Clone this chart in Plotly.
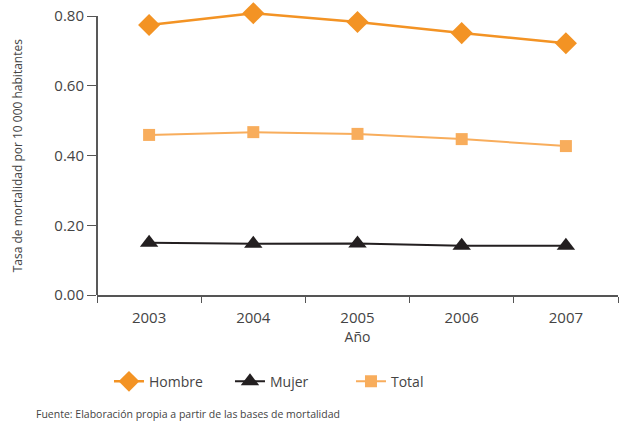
import plotly.graph_objects as go

years = ["2003", "2004", "2005", "2006", "2007"]
hombre = [0.774, 0.808, 0.783, 0.751, 0.722]
mujer = [0.150, 0.147, 0.148, 0.141, 0.141]
total = [0.459, 0.467, 0.462, 0.447, 0.427]
y_ticks = [0.0, 0.2, 0.4, 0.6, 0.8]
y_tick_labels = ["0.00", "0.20", "0.40", "0.60", "0.80"]

FONT = "Open Sans"
fig = go.Figure()
fig.add_trace(go.Scatter(x=years, y=hombre, name="Hombre", mode="lines+markers",
                         cliponaxis=False,
                         line=dict(color="#F39324", width=2.5),
                         marker=dict(symbol="diamond", size=17, color="#F39324")))
fig.add_trace(go.Scatter(x=years, y=mujer, name="Mujer", mode="lines+markers",
                         cliponaxis=False,
                         line=dict(color="#231F20", width=2),
                         marker=dict(symbol="triangle-up", size=16, color="#231F20")))
fig.add_trace(go.Scatter(x=years, y=total, name="Total", mode="lines+markers",
                         cliponaxis=False,
                         line=dict(color="#F8AD5C", width=2),
                         marker=dict(symbol="square", size=12, color="#F8AD5C")))

fig.update_layout(
    width=621, height=423,
    margin=dict(l=97, r=3, t=12, b=128, autoexpand=False),
    paper_bgcolor="white", plot_bgcolor="white",
    font=dict(family=FONT, size=14, color="#444"),
    showlegend=True,
    hovermode=False,
    legend=dict(orientation="h", x=0.023, y=-0.25, xanchor="left", yanchor="top",
                font=dict(size=14, color="#444"), entrywidth=76, entrywidthmode="pixels"),
    xaxis=dict(type="category", range=[-0.5, 4.5], showline=True, linecolor="#555",
               linewidth=1.5, ticks="outside", tickson="boundaries", ticklen=6,
               tickcolor="#555", showgrid=False, zeroline=False, automargin=False,
               tickfont=dict(size=15), ticklabelstandoff=8,
               title=dict(text="Año", standoff=4, font=dict(size=14))),
    yaxis=dict(range=[0, 0.8 * 283 / 279], tickvals=y_ticks, ticktext=y_tick_labels,
               showline=False, ticks="outside",
               ticklen=9, tickcolor="#555", showgrid=False, zeroline=False,
               tickfont=dict(size=15), automargin=False),
)

# y axis line from 0 to top tick
fig.add_shape(type="line", xref="paper", yref="y", x0=0, x1=0, y0=0, y1=y_ticks[-1],
              line=dict(color="#222", width=1.5))

fig.add_annotation(text="Tasa de mortalidad por 10 000 habitantes",
                   xref="paper", yref="paper", x=-0.152, y=0.5 * 279 / 283, xanchor="center",
                   yanchor="middle", textangle=-90, showarrow=False,
                   font=dict(size=12, color="#444"))
fig.add_annotation(text="Fuente: Elaboración propia a partir de las bases de mortalidad",
                   xref="paper", yref="paper", x=-0.12, y=-0.42, xanchor="left",
                   yanchor="middle", showarrow=False, font=dict(size=10.5, color="#444"))

fig.write_html("out.html", config={"displayModeBar": False},
               post_script="document.body.style.margin='0px';")
